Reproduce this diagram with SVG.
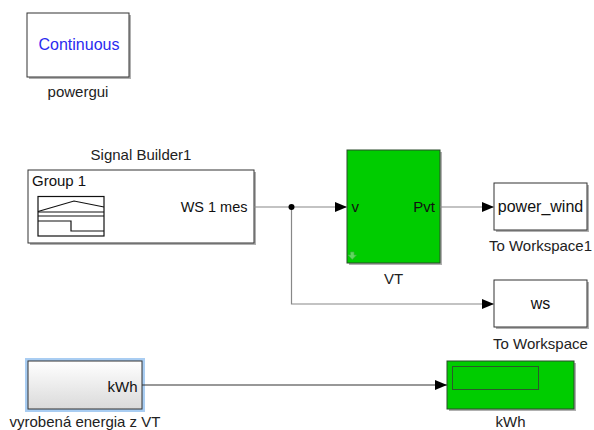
<svg xmlns="http://www.w3.org/2000/svg" width="594" height="430" viewBox="0 0 594 430">
<defs>
<style>
.blk{fill:#ffffff;stroke:#333333;stroke-width:1}
.shd{fill:#b0b0b0;stroke:none}
.grn{fill:#00cc00;stroke:#2a4a2a;stroke-width:1}
.lbl{font-family:"Liberation Sans",Arial,sans-serif;font-size:15px;fill:#222222;text-anchor:middle}
.txt{font-family:"Liberation Sans",Arial,sans-serif;font-size:15px;fill:#111111}
.ln{fill:none;stroke:#888888;stroke-width:1.2}
.lnd{fill:none;stroke:#333333;stroke-width:1.2}
</style>
<marker id="ah" markerUnits="userSpaceOnUse" markerWidth="12" markerHeight="10" refX="12" refY="5" orient="auto">
<path d="M0,0 L12,5 L0,10 z" fill="#000000"/>
</marker>
<linearGradient id="gr" x1="0" y1="0" x2="0" y2="1">
<stop offset="0" stop-color="#ffffff"/>
<stop offset="1" stop-color="#dadada"/>
</linearGradient>
</defs>
<rect width="594" height="430" fill="#ffffff"/>

<g id="powergui">
<rect class="shd" x="29" y="15" width="102" height="64"/>
<rect class="blk" x="27" y="13" width="102" height="64"/>
<text x="79" y="50" style="font-family:'Liberation Sans',Arial,sans-serif;font-size:16px;fill:#2b2bf0;text-anchor:middle">Continuous</text>
<text class="lbl" x="78" y="97">powergui</text>
</g>

<g id="signal_builder">
<rect class="shd" x="30" y="172" width="226" height="73"/>
<rect class="blk" x="28" y="170" width="226" height="73"/>
<text class="txt" x="32" y="186">Group 1</text>
<g fill="none" stroke="#111111" stroke-width="1.2">
<rect x="38" y="196.5" width="66" height="39.5"/>
<polyline points="38,211.5 74,201 104,207"/>
<line x1="38" y1="212" x2="104" y2="212"/>
<line x1="38" y1="216" x2="104" y2="216"/>
<polyline points="38,221 71,221 71,231 104,231"/>
</g>
<text class="txt" x="247.5" y="212" text-anchor="end" style="font-size:14.5px">WS 1 mes</text>
<text class="lbl" x="141" y="160">Signal Builder1</text>
</g>

<g id="VT">
<rect class="shd" x="349" y="152" width="93" height="113"/>
<rect class="grn" x="347" y="150" width="93" height="113"/>
<text class="txt" x="351.5" y="212">v</text>
<text class="txt" x="435" y="212" text-anchor="end">Pvt</text>
<path d="M350.5,252 h3.5 v3 h2.5 l-4.25,4.5 l-4.25,-4.5 h2.5 z" fill="#5fd85f" stroke="#3fae3f" stroke-width="0.6"/>
<text class="lbl" x="393.5" y="284">VT</text>
</g>

<g id="to_workspace1">
<rect class="shd" x="496" y="185" width="93" height="47"/>
<rect class="blk" x="494" y="183" width="93" height="47"/>
<text class="txt" x="540.5" y="212" text-anchor="middle" style="font-size:16px">power_wind</text>
<text class="lbl" x="540.5" y="251">To Workspace1</text>
</g>

<g id="to_workspace">
<rect class="shd" x="496" y="282" width="93" height="47"/>
<rect class="blk" x="494" y="280" width="93" height="47"/>
<text class="txt" x="540.5" y="309" text-anchor="middle" style="font-size:16px">ws</text>
<text class="lbl" x="540.5" y="349">To Workspace</text>
</g>

<g id="vyrobena_energia">
<rect x="26.5" y="359.5" width="117" height="51" fill="none" stroke="#a9cdf2" stroke-width="3"/>
<rect x="28" y="361" width="114" height="48" fill="url(#gr)" stroke="#333333" stroke-width="1"/>
<text class="txt" x="137.5" y="392" text-anchor="end">kWh</text>
<text class="lbl" x="85" y="426.5">vyrobená energia z VT</text>
</g>

<g id="kWh_display">
<rect class="shd" x="449" y="363" width="127" height="48"/>
<rect class="grn" x="447" y="361" width="127" height="48"/>
<rect x="452.5" y="366.5" width="86" height="23" fill="none" stroke="#2a5a2a" stroke-width="1"/>
<text class="lbl" x="510.5" y="426.5">kWh</text>
</g>

<g id="connectors">
<line class="ln" x1="254" y1="207" x2="347" y2="207" marker-end="url(#ah)"/>
<line class="ln" x1="440" y1="207" x2="494" y2="207" marker-end="url(#ah)"/>
<polyline class="ln" points="291.5,207 291.5,304 494,304" marker-end="url(#ah)"/>
<circle cx="291.5" cy="207" r="3" fill="#000000"/>
<line class="lnd" x1="142" y1="385" x2="447" y2="385" marker-end="url(#ah)"/>
</g>
</svg>
